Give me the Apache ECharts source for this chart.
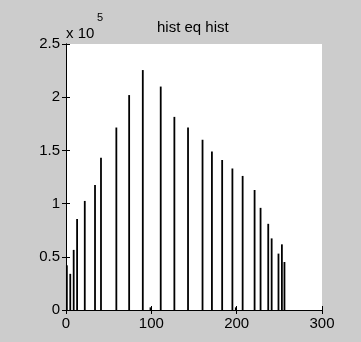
<!DOCTYPE html>
<html>
<head>
<meta charset="utf-8">
<script src="https://cdn.jsdelivr.net/npm/echarts@6/dist/echarts.min.js"></script>
<style>
html,body{margin:0;padding:0;background:#cccccc;}
#c{width:361px;height:342px;}
</style>
</head>
<body>
<div id="c"></div>
<script>
// gray levels (x) and pixel counts (y)
var levels = [1, 5, 9, 13, 22, 34, 41, 59, 74, 90, 99, 111, 127, 143, 160, 171, 183, 195, 199, 207, 221, 228, 237, 241, 249, 253, 256];
var counts = [42000, 34000, 56500, 85500, 102500, 117500, 143000, 171500, 202000, 225500, 2500, 210000, 181500, 171500, 160000, 149000, 141000, 133000, 2500, 126000, 112800, 96000, 81000, 67300, 53000, 61700, 45100];
var xTicks = [0, 100, 200, 300];
var yTicks = ['0', '0.5', '1', '1.5', '2', '2.5'];
var titleText = 'hist eq hist';

var font = 'Liberation Sans, Arial, Helvetica, sans-serif';
var data = levels.map(function (x, i) { return [x, counts[i]]; });
var chart = echarts.init(document.getElementById('c'), null, {renderer: 'canvas'});
var line = {show: true, lineStyle: {color: '#000', width: 1}};
chart.setOption({
  backgroundColor: '#cccccc',
  animation: false,
  title: {
    text: titleText, left: 157, top: 20, padding: 0,
    textStyle: {fontFamily: font, fontSize: 15, fontWeight: 'normal', color: '#000'}
  },
  graphic: [
    {type: 'text', left: 66, top: 26, style: {text: 'x 10', font: '15px ' + font, fill: '#000'}},
    {type: 'text', left: 97, top: 12, style: {text: '5', font: '11px ' + font, fill: '#000'}}
  ],
  grid: {left: 66, right: 39, top: 44, bottom: 32, show: true, backgroundColor: '#fff', borderWidth: 0},
  xAxis: [{
    type: 'value', min: xTicks[0], max: xTicks[xTicks.length - 1], interval: 100,
    axisLine: line, splitLine: {show: false},
    axisTick: {inside: true, length: 4, lineStyle: {color: '#000'}},
    axisLabel: {color: '#000', fontFamily: font, fontSize: 15, margin: 6}
  }, {
    type: 'value', position: 'top', min: 0, max: 300, interval: 100,
    axisLine: line, splitLine: {show: false},
    axisTick: {inside: true, length: 4, lineStyle: {color: '#000'}},
    axisLabel: {show: false}
  }],
  yAxis: [{
    type: 'value', min: 0, max: 250000, interval: 50000,
    axisLine: line, splitLine: {show: false},
    axisTick: {inside: true, length: 4, lineStyle: {color: '#000'}},
    axisLabel: {color: '#000', fontFamily: font, fontSize: 15, margin: 6,
      formatter: function (v) { return yTicks[Math.round(v / 50000)]; }}
  }, {
    type: 'value', position: 'right', min: 0, max: 250000, interval: 50000,
    axisLine: line, splitLine: {show: false},
    axisTick: {inside: true, length: 4, lineStyle: {color: '#000'}},
    axisLabel: {show: false}
  }],
  series: [{
    type: 'bar', xAxisIndex: 0, yAxisIndex: 0,
    data: data, barWidth: 1.8,
    itemStyle: {color: '#000'}
  }]
});
</script>
</body>
</html>
